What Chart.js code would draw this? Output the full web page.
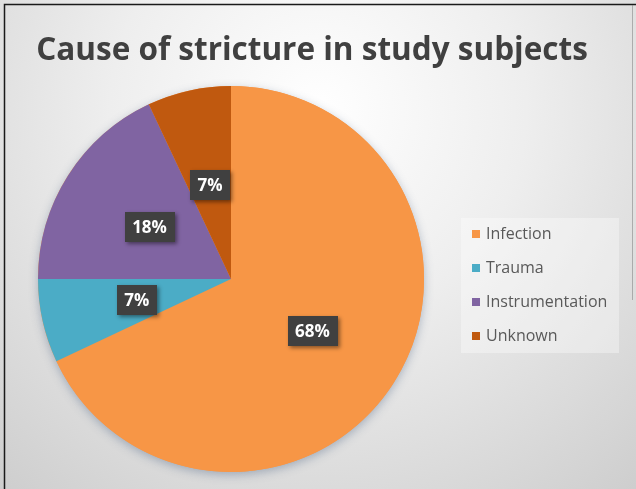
<!DOCTYPE html>
<html>
<head>
<meta charset="utf-8">
<script src="https://cdn.jsdelivr.net/npm/chart.js"></script>
<style>
  html, body { margin: 0; padding: 0; background: #fff; }
  canvas { display: block; }
</style>
</head>
<body>
<canvas id="causeChart" width="636" height="489"></canvas>
<script>
// ==================== DATA ====================
const causes = ["Infection", "Trauma", "Instrumentation", "Unknown"];
const percents = [68, 7, 18, 7];
const chartTitle = "Cause of stricture in study subjects";

const sliceColors = ["#f79646", "#4bacc6", "#8064a2", "#c0590f"];

// ==================== PLUGINS ====================
// gray radial backdrop, frame lines and a soft shadow under the pie
const backdrop = {
  id: "backdrop",
  beforeDraw(chart) {
    const ctx = chart.ctx;
    const w = chart.width, h = chart.height;
    ctx.save();
    const g = ctx.createRadialGradient(318, 110, 0, 318, 110, 520);
    g.addColorStop(0, "#ffffff");
    g.addColorStop(0.4, "#eeeeee");
    g.addColorStop(1, "#cbcbcb");
    ctx.fillStyle = g;
    ctx.fillRect(0, 0, w, h);

    ctx.strokeStyle = "#1a1a1a";
    ctx.lineWidth = 1.5;
    ctx.beginPath();
    ctx.moveTo(4.5, h);
    ctx.lineTo(4.5, 4.5);
    ctx.lineTo(w, 4.5);
    ctx.stroke();
    ctx.strokeStyle = "rgba(120,120,120,0.5)";
    ctx.lineWidth = 1;
    ctx.beginPath();
    ctx.moveTo(632.5, 5);
    ctx.lineTo(632.5, 300);
    ctx.stroke();
    ctx.restore();
  },
  beforeDatasetsDraw(chart) {
    const arc = chart.getDatasetMeta(0).data[0];
    if (!arc) return;
    const ctx = chart.ctx;
    ctx.save();
    ctx.shadowColor = "rgba(90, 110, 140, 0.45)";
    ctx.shadowBlur = 10;
    ctx.shadowOffsetY = 3;
    ctx.fillStyle = "#f79646";
    ctx.beginPath();
    ctx.arc(arc.x, arc.y, arc.outerRadius, 0, Math.PI * 2);
    ctx.fill();
    ctx.restore();
  }
};

// dark percentage tags in the middle of each slice
const sliceTags = {
  id: "sliceTags",
  afterDatasetsDraw(chart) {
    const ctx = chart.ctx;
    const meta = chart.getDatasetMeta(0);
    ctx.save();
    ctx.font = "bold 17px 'Open Sans'";
    ctx.textAlign = "center";
    ctx.textBaseline = "middle";
    meta.data.forEach((arc, i) => {
      const p = arc.tooltipPosition();
      const text = percents[i] + "%";
      const tw = ctx.measureText(text).width;
      const bw = tw + 15, bh = 30;
      ctx.shadowColor = "rgba(0,0,0,0.45)";
      ctx.shadowBlur = 4;
      ctx.shadowOffsetX = 2;
      ctx.shadowOffsetY = 2;
      ctx.fillStyle = "#404040";
      ctx.fillRect(Math.round(p.x - bw / 2), Math.round(p.y - bh / 2), Math.round(bw), bh);
      ctx.shadowColor = "transparent";
      ctx.fillStyle = "#ffffff";
      ctx.fillText(text, p.x, p.y + 1);
    });
    ctx.restore();
  }
};

// title and boxed legend on the right
const titleAndLegend = {
  id: "titleAndLegend",
  afterDraw(chart) {
    const ctx = chart.ctx;
    ctx.save();
    ctx.fillStyle = "#404040";
    ctx.font = "bold 31.5px 'Open Sans'";
    ctx.textAlign = "center";
    ctx.textBaseline = "alphabetic";
    ctx.fillText(chartTitle, 312, 60);

    ctx.fillStyle = "rgba(255,255,255,0.35)";
    ctx.fillRect(461, 218, 158, 135);

    const rowY = [234, 268, 302, 336];
    ctx.font = "16px 'Open Sans'";
    ctx.textAlign = "left";
    ctx.textBaseline = "middle";
    causes.forEach((name, i) => {
      ctx.fillStyle = sliceColors[i];
      ctx.fillRect(472, rowY[i] - 4, 8, 8);
      ctx.fillStyle = "#595959";
      ctx.fillText(name, 486, rowY[i]);
    });
    ctx.restore();
  }
};

// ==================== CHART ====================
new Chart(document.getElementById("causeChart"), {
  type: "pie",
  data: {
    labels: causes,
    datasets: [{
      data: percents,
      backgroundColor: sliceColors,
      borderWidth: 0
    }]
  },
  options: {
    responsive: false,
    animation: false,
    devicePixelRatio: 1,
    layout: { padding: { left: 38, right: 212, top: 86, bottom: 17 } },
    plugins: {
      legend: { display: false },
      title: { display: false },
      tooltip: { enabled: false }
    }
  },
  plugins: [backdrop, sliceTags, titleAndLegend]
});
</script>
</body>
</html>
